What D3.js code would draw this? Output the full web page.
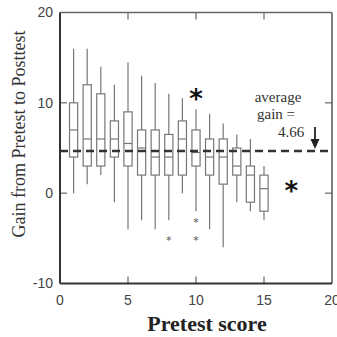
<!DOCTYPE html>
<html>
<head>
<meta charset="utf-8">
<script src="https://d3js.org/d3.v7.min.js"></script>
<style>
  body { margin: 0; background: #fff; }
  svg { display: block; }
</style>
</head>
<body>
<div id="chart"></div>
<script>
// pretest scores and the box stats
var pretest = [1, 2, 3, 4, 5, 6, 7, 8, 9, 10, 11, 12, 13, 14, 15];
var whiskerHigh = [16, 16, 14, 12, 14.5, 13, 12.2, 11, 10.5, 9.3, 8.8, 7.7, 6.5, 6, 3];
var q3 = [10, 12, 11, 8, 9, 7, 7, 6.5, 8, 7, 6, 6, 5, 3, 2];
var median = [7, 6, 6, 6, 5.5, 5, 4, 4, 6, 4.5, 4, 4, 3, 2, 0.5];
var q1 = [4, 3, 3, 4, 3, 2, 2, 2, 2, 3, 2, 1, 2, -1, -2];
var whiskerLow = [0, 1, 2, -1, -4, -3, -4, -3, 0, -2, -4, -6, -1, -2, -3];

// small outliers and the two big star marks
var outlierX = [8, 10, 10];
var outlierY = [-5, -3, -5];
var starX = [10, 17];
var starY = [11.2, 1];

var averageGain = 4.66;
var arrowX = 18.75;

var xTicks = [0, 5, 10, 15, 20];
var yTicks = [-10, 0, 10, 20];

var svgWidth = 337;
var svgHeight = 337;

var margin = {
    top: 12.5,
    right: 5,
    bottom: 53.5,
    left: 60
};

var chartWidth = svgWidth - margin.left - margin.right;
var chartHeight = svgHeight - margin.top - margin.bottom;

var svg = d3.select("#chart")
    .append("svg")
    .attr("width", svgWidth)
    .attr("height", svgHeight);

var chartGroup = svg.append("g")
    .attr("transform", `translate(${margin.left}, ${margin.top})`);

var xScale = d3.scaleLinear()
    .domain([0, 20])
    .range([0, chartWidth]);

var yScale = d3.scaleLinear()
    .domain([-10, 20])
    .range([chartHeight, 0]);

var boxW = xScale(0.6) - xScale(0);
var grey = "#777";

// inward ticks on all four sides, labels only bottom/left
var tickLen = 7;
var innerX = xTicks.filter(d => d > 0 && d < 20);
var innerY = yTicks.filter(d => d > -10 && d < 20);

chartGroup.selectAll(".tb")
    .data(innerX)
    .enter()
    .append("line")
    .attr("x1", d => xScale(d))
    .attr("x2", d => xScale(d))
    .attr("y1", chartHeight)
    .attr("y2", chartHeight - tickLen)
    .attr("stroke", "#666")
    .attr("stroke-width", 1.2);

chartGroup.selectAll(".tt")
    .data(innerX)
    .enter()
    .append("line")
    .attr("x1", d => xScale(d))
    .attr("x2", d => xScale(d))
    .attr("y1", 0)
    .attr("y2", tickLen)
    .attr("stroke", "#666")
    .attr("stroke-width", 1.2);

chartGroup.selectAll(".tl")
    .data(innerY)
    .enter()
    .append("line")
    .attr("x1", 0)
    .attr("x2", tickLen)
    .attr("y1", d => yScale(d))
    .attr("y2", d => yScale(d))
    .attr("stroke", "#666")
    .attr("stroke-width", 1.2);

chartGroup.selectAll(".tr")
    .data(innerY)
    .enter()
    .append("line")
    .attr("x1", chartWidth - tickLen)
    .attr("x2", chartWidth)
    .attr("y1", d => yScale(d))
    .attr("y2", d => yScale(d))
    .attr("stroke", "#666")
    .attr("stroke-width", 1.2);

// frame: top/right lighter, left/bottom darker
chartGroup.append("line")
    .attr("x1", 0).attr("x2", chartWidth)
    .attr("y1", 0).attr("y2", 0)
    .attr("stroke", "#666")
    .attr("stroke-width", 1.5);
chartGroup.append("line")
    .attr("x1", chartWidth).attr("x2", chartWidth)
    .attr("y1", 0).attr("y2", chartHeight)
    .attr("stroke", "#555")
    .attr("stroke-width", 1.5);
chartGroup.append("line")
    .attr("x1", 0).attr("x2", 0)
    .attr("y1", 0).attr("y2", chartHeight)
    .attr("stroke", "#333")
    .attr("stroke-width", 2);
chartGroup.append("line")
    .attr("x1", 0).attr("x2", chartWidth)
    .attr("y1", chartHeight).attr("y2", chartHeight)
    .attr("stroke", "#333")
    .attr("stroke-width", 2);

// tick labels
chartGroup.selectAll(".xl")
    .data(xTicks)
    .enter()
    .append("text")
    .attr("x", d => xScale(d))
    .attr("y", chartHeight + 21)
    .attr("text-anchor", "middle")
    .attr("font-family", "Liberation Sans, Arial, sans-serif")
    .attr("font-size", "14px")
    .attr("fill", "#444")
    .text(d => d);

chartGroup.selectAll(".yl")
    .data(yTicks)
    .enter()
    .append("text")
    .attr("x", -7)
    .attr("y", d => yScale(d))
    .attr("dy", "0.35em")
    .attr("text-anchor", "end")
    .attr("font-family", "Liberation Sans, Arial, sans-serif")
    .attr("font-size", "14px")
    .attr("fill", "#444")
    .text(d => d);

// boxplots
var boxes = chartGroup.selectAll(".box")
    .data(pretest)
    .enter()
    .append("g");

boxes.append("line")
    .attr("x1", d => xScale(d))
    .attr("x2", d => xScale(d))
    .attr("y1", (d, i) => yScale(whiskerHigh[i]))
    .attr("y2", (d, i) => yScale(q3[i]))
    .attr("stroke", grey)
    .attr("stroke-width", 1.2);

boxes.append("line")
    .attr("x1", d => xScale(d))
    .attr("x2", d => xScale(d))
    .attr("y1", (d, i) => yScale(q1[i]))
    .attr("y2", (d, i) => yScale(whiskerLow[i]))
    .attr("stroke", grey)
    .attr("stroke-width", 1.2);

boxes.append("rect")
    .attr("x", d => xScale(d) - boxW / 2)
    .attr("width", boxW)
    .attr("y", (d, i) => yScale(q3[i]))
    .attr("height", (d, i) => yScale(q1[i]) - yScale(q3[i]))
    .attr("fill", "#fff")
    .attr("stroke", grey)
    .attr("stroke-width", 1.2);

boxes.append("line")
    .attr("x1", d => xScale(d) - boxW / 2)
    .attr("x2", d => xScale(d) + boxW / 2)
    .attr("y1", (d, i) => yScale(median[i]))
    .attr("y2", (d, i) => yScale(median[i]))
    .attr("stroke", grey)
    .attr("stroke-width", 1.2);

// outliers
chartGroup.selectAll(".out")
    .data(outlierX)
    .enter()
    .append("text")
    .attr("x", d => xScale(d))
    .attr("y", (d, i) => yScale(outlierY[i]))
    .attr("dy", "0.55em")
    .attr("text-anchor", "middle")
    .attr("font-family", "DejaVu Sans, sans-serif")
    .attr("font-size", "11px")
    .attr("fill", "#555")
    .text("*");

chartGroup.selectAll(".star")
    .data(starX)
    .enter()
    .append("text")
    .attr("x", d => xScale(d))
    .attr("y", (d, i) => yScale(starY[i]))
    .attr("dy", "0.6em")
    .attr("text-anchor", "middle")
    .attr("font-family", "DejaVu Sans, sans-serif")
    .attr("font-weight", "bold")
    .attr("font-size", "26px")
    .attr("fill", "#111")
    .text("*");

// average gain dashed line
chartGroup.append("line")
    .attr("x1", xScale(0))
    .attr("x2", xScale(20))
    .attr("y1", yScale(averageGain))
    .attr("y2", yScale(averageGain))
    .attr("stroke", "#333")
    .attr("stroke-width", 2.5)
    .attr("stroke-dasharray", "8,5");

// annotation and arrow
var noteLines = ["average", "gain =", "4.66"];
var noteX = [278, 276, 291];
var noteY = [102, 119, 137];

svg.selectAll(".note")
    .data(noteLines)
    .enter()
    .append("text")
    .attr("x", (d, i) => noteX[i])
    .attr("y", (d, i) => noteY[i])
    .attr("text-anchor", "middle")
    .attr("font-family", "Liberation Serif, Times New Roman, serif")
    .attr("font-size", "15px")
    .attr("fill", "#333")
    .text(d => d);

var ax = xScale(arrowX);
var ayEnd = yScale(averageGain) - 2;
chartGroup.append("line")
    .attr("x1", ax).attr("x2", ax)
    .attr("y1", ayEnd - 22)
    .attr("y2", ayEnd - 8)
    .attr("stroke", "#222")
    .attr("stroke-width", 1.8);
chartGroup.append("path")
    .attr("d", `M${ax - 4.5},${ayEnd - 10} L${ax + 4.5},${ayEnd - 10} L${ax},${ayEnd} Z`)
    .attr("fill", "#222");

// axis titles
svg.append("text")
    .attr("transform", "rotate(-90)")
    .attr("x", -134)
    .attr("y", 25)
    .attr("text-anchor", "middle")
    .attr("font-family", "Liberation Serif, Times New Roman, serif")
    .attr("font-size", "18px")
    .attr("fill", "#333")
    .text("Gain from Pretest to Posttest");

svg.append("text")
    .attr("x", 207)
    .attr("y", 331)
    .attr("text-anchor", "middle")
    .attr("font-family", "Liberation Serif, Times New Roman, serif")
    .attr("font-weight", "bold")
    .attr("font-size", "22px")
    .attr("fill", "#222")
    .text("Pretest score");
</script>
</body>
</html>
